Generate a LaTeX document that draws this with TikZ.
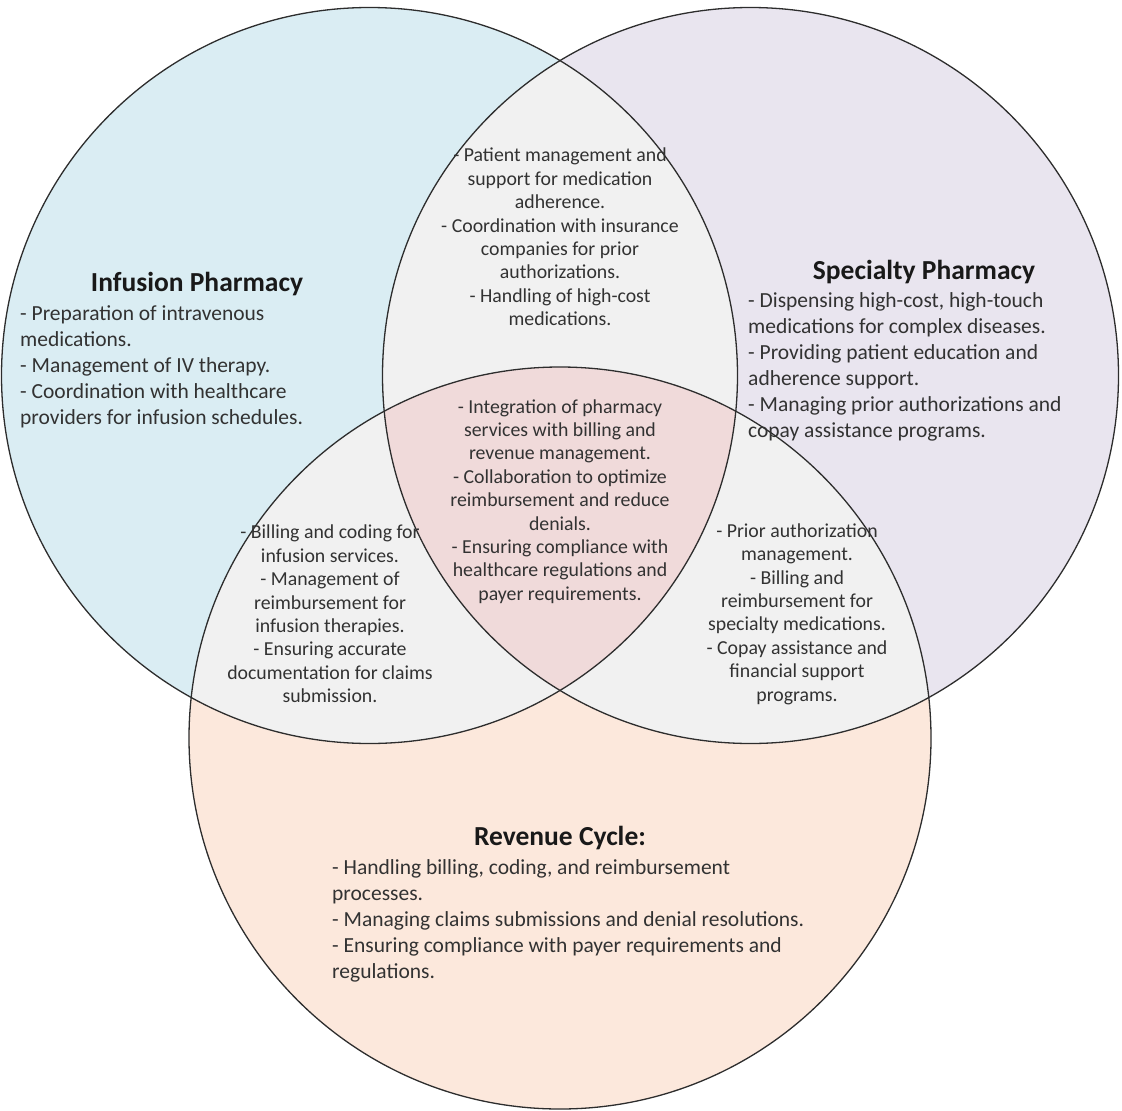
\documentclass[tikz,border=0pt]{standalone}
\usepackage{fontspec}
\setmainfont{Carlito}
\definecolor{infusionfill}{RGB}{218,237,243}
\definecolor{specialtyfill}{RGB}{233,229,239}
\definecolor{revenuefill}{RGB}{252,232,220}
\definecolor{pairfill}{RGB}{241,241,241}
\definecolor{corefill}{RGB}{240,218,218}
\definecolor{edgegray}{RGB}{45,45,45}
\definecolor{bodytext}{RGB}{50,50,50}
\begin{document}
\begin{tikzpicture}[x=1pt,y=-1pt,
  ring/.style={draw=edgegray,line width=1.3pt},
  heading/.style={font=\fontsize{27.5}{30}\selectfont\bfseries,text=black!90,inner sep=0pt},
  sidetext/.style={font=\fontsize{21.5}{26}\selectfont,text=bodytext,align=left,inner sep=0pt},
  lenstext/.style={font=\fontsize{19.8}{23.4}\selectfont,text=bodytext,align=center,inner sep=0pt}]
\useasboundingbox (0,0) rectangle (1122,1111);
\def\rr{368pt}
\def\rc{371pt}
\coordinate (cA) at (369.5,375.5);
\coordinate (cB) at (750.5,375.5);
\coordinate (cC) at (560,738);

% base fills of the three sets
\fill[infusionfill] (cA) circle (\rr);
\fill[specialtyfill] (cB) circle (\rr);
\fill[revenuefill] (cC) circle (\rc);

% pairwise overlaps
\begin{scope}
  \clip (cA) circle (\rr);
  \fill[pairfill] (cB) circle (\rr);
  \fill[pairfill] (cC) circle (\rc);
\end{scope}
\begin{scope}
  \clip (cB) circle (\rr);
  \fill[pairfill] (cC) circle (\rc);
\end{scope}

% triple overlap
\begin{scope}
  \clip (cA) circle (\rr);
  \clip (cB) circle (\rr);
  \fill[corefill] (cC) circle (\rc);
\end{scope}

% outlines
\draw[ring] (cA) circle (\rr);
\draw[ring] (cB) circle (\rr);
\draw[ring] (cC) circle (\rc);

% set titles and descriptions
\node[heading] (tA) at (197,284) {Infusion Pharmacy};
\node[sidetext,anchor=north west] (bA) at (20,305) {- Preparation of intravenous\\medications.\\- Management of IV therapy.\\- Coordination with healthcare\\providers for infusion schedules.};

\node[heading] (tB) at (924,272) {Specialty Pharmacy};
\node[sidetext,anchor=north west] (bB) at (748,292) {- Dispensing high-cost, high-touch\\medications for complex diseases.\\- Providing patient education and\\adherence support.\\- Managing prior authorizations and\\copay assistance programs.};

\node[heading] (tC) at (560,838) {Revenue Cycle:};
\node[sidetext,anchor=north west] (bC) at (332,859) {- Handling billing, coding, and reimbursement\\processes.\\- Managing claims submissions and denial resolutions.\\- Ensuring compliance with payer requirements and\\regulations.};

% overlap descriptions
\node[lenstext] (tAB) at (560,237) {- Patient management and\\support for medication\\adherence.\\- Coordination with insurance\\companies for prior\\authorizations.\\- Handling of high-cost\\medications.};
\node[lenstext] (tABC) at (560,501.5) {- Integration of pharmacy\\services with billing and\\revenue management.\\- Collaboration to optimize\\reimbursement and reduce\\denials.\\- Ensuring compliance with\\healthcare regulations and\\payer requirements.};
\node[lenstext] (tAC) at (330,614) {- Billing and coding for\\infusion services.\\- Management of\\reimbursement for\\infusion therapies.\\- Ensuring accurate\\documentation for claims\\submission.};
\node[lenstext] (tBC) at (797,614) {- Prior authorization\\management.\\- Billing and\\reimbursement for\\specialty medications.\\- Copay assistance and\\financial support\\programs.};
\end{tikzpicture}
\end{document}
